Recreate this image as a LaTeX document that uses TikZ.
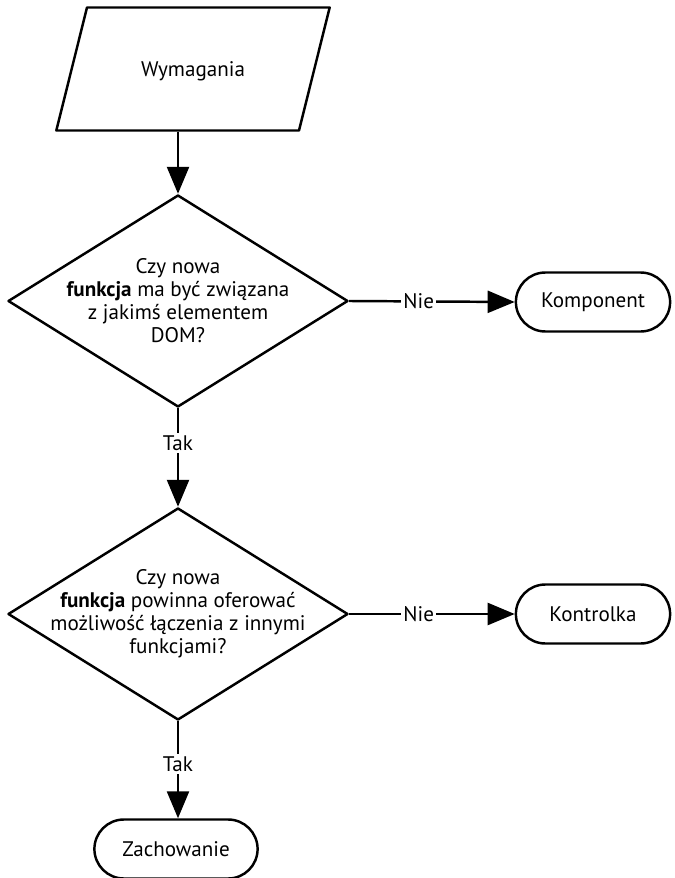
\documentclass[tikz,border=0pt]{standalone}
\usepackage{fontspec}
\setmainfont{PT Sans}
\usetikzlibrary{shapes.geometric,shapes.misc,arrows.meta}

\begin{document}
\begin{tikzpicture}[x=0.03cm, y=-0.03cm, font=\fontsize{18}{19.6}\selectfont, line join=round,
		every path/.style={line width=2.1pt},
		io/.style={trapezium, trapezium left angle=76, trapezium right angle=104, draw, inner sep=0pt, text width=6.36cm, align=center, text height=2.07cm, text depth=1.62cm},
		decision/.style={diamond, draw, inner sep=0pt, minimum width=10.2cm, minimum height=6.36cm},
		term/.style={rounded rectangle, draw, minimum width=4.86cm, minimum height=1.77cm},
		lab/.style={fill=white, inner sep=2pt},
		arr/.style={-{Triangle[length=0.81cm,width=0.66cm]}}]
	\useasboundingbox (0,0) rectangle (674,878);
	\node[io] (wym) at (193,69) {Wymagania};
	\node[decision, label={[align=center]center:Czy nowa\\\textbf{funkcja} ma być związana\\z jakimś elementem\\DOM?}] (q1) at (178,301) {};
	\node[decision, label={[align=center]center:Czy nowa\\\textbf{funkcja} powinna oferować\\możliwość łączenia z innymi\\funkcjami?}] (q2) at (178,614) {};
	\node[term] (komp) at (593,302) {Komponent};
	\node[term] (kontr) at (593,614) {Kontrolka};
	\node[term, minimum width=5.13cm] (zach) at (176,849) {Zachowanie};
	% polaczenia
	\draw[arr] (wym.south -| q1.north) -- (q1.north);
	\draw[arr] (q1.east) -- node[lab, pos=0.42] {Nie} (komp.west);
	\draw[arr] (q1.south) -- node[lab, pos=0.35] {Tak} (q2.north);
	\draw[arr] (q2.east) -- node[lab, pos=0.42] {Nie} (kontr.west);
	\draw[arr] (q2.south) -- node[lab, pos=0.44] {Tak} (q2.south |- zach.north);
\end{tikzpicture}
\end{document}
